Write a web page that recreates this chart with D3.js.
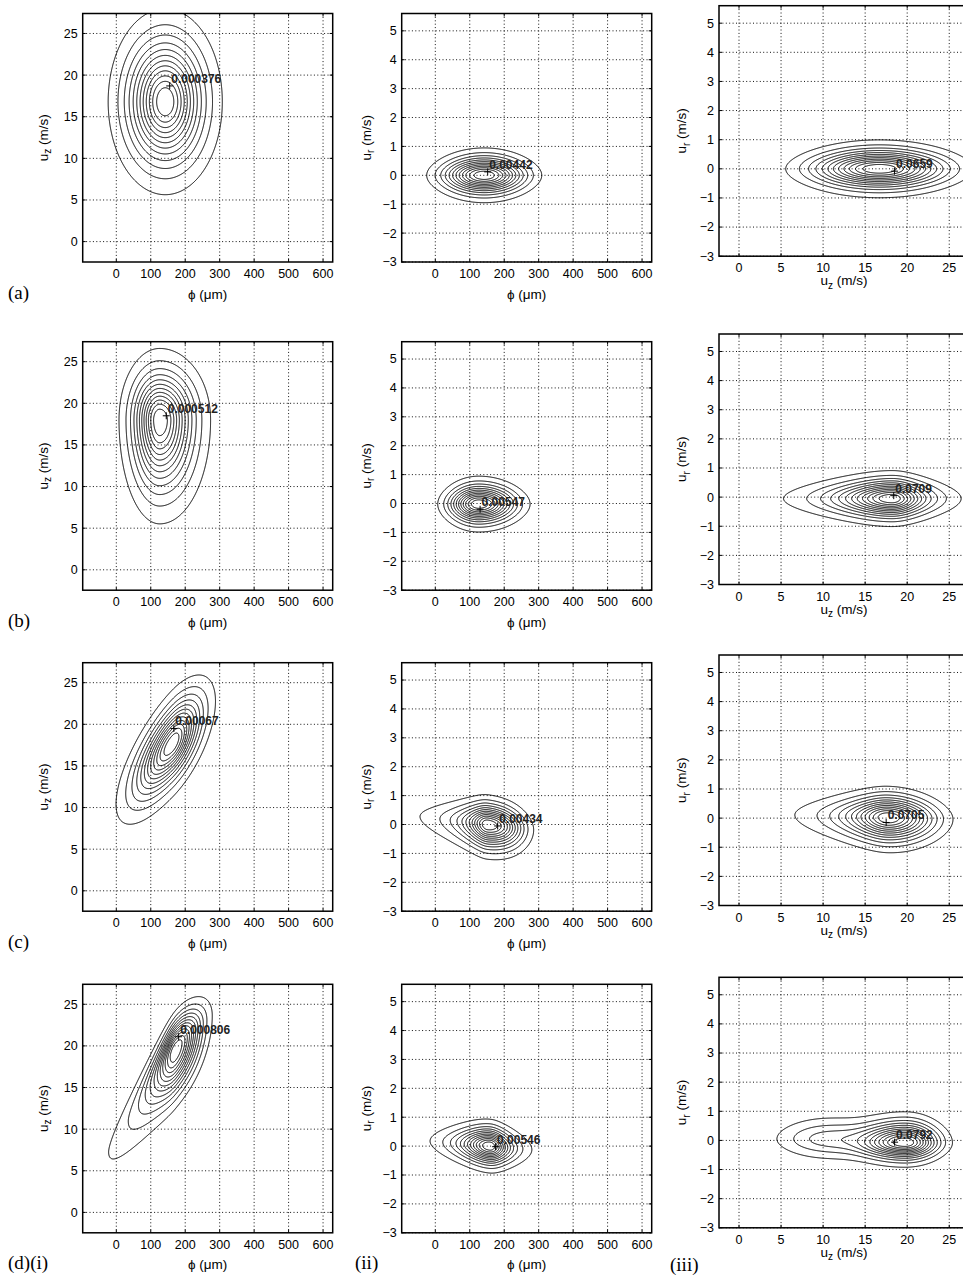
<!DOCTYPE html>
<html><head><meta charset="utf-8">
<script src="https://cdn.jsdelivr.net/npm/d3@7"></script>
<style>body{margin:0;background:#fff} svg{display:block}</style>
</head><body>
<script>
// ---------------- data ----------------
const rowLabels = ["(a)", "(b)", "(c)", "(d)(i)"];
const colLabels = ["", "(ii)", "(iii)"];
const phiTicks = [0, 100, 200, 300, 400, 500, 600];
const uzTicks = [0, 5, 10, 15, 20, 25];
const urTicks = [-3, -2, -1, 0, 1, 2, 3, 4, 5];
const phiRange = [-97.5, 628];
const uzRangeY = [-2.45, 27.4];
const uzRangeX = [-2.38, 27.35];
const urRange = [-3, 5.6];
const nLevels = 12;
// peak markers (+) and their printed maximum values, panel order a(i),a(ii),a(iii),b(i)...
const peakText = ["0.000376", "0.00442", "0.0659", "0.000512", "0.00547", "0.0709",
                  "0.00067", "0.00434", "0.0705", "0.000806", "0.00546", "0.0792"];
const peakX = [155, 152, 18.5, 145, 130, 18.4, 167, 181, 17.5, 181, 175, 18.5];
const peakY = [18.7, 0.12, -0.08, 18.5, -0.2, 0.05, 19.5, -0.05, -0.15, 21.1, -0.02, -0.06];
// fitted density shapes estimated from the contours:
// [weight, centreX, centreY, spreadLeft, spreadRight, tailExpLeft, tailExpRight,
//  spreadDown, spreadUp, tailExpY, slopeLeft, slopeRight, radialExp]
const shapes = [
  [[1, 142, 16.8, 61.7, 61.7, 2, 2, 4.16, 4.16, 2, 0, 0, 1.5]],
  [[1, 142, 0, 73.7, 73.7, 2, 2, 0.353, 0.353, 1.5, 0, 0, 2]],
  [[1, 16.7, 0, 4.92, 4.92, 2, 2, 0.37, 0.37, 1.5, 0, 0, 2]],
  [[1, 126, 18, 44, 55, 2, 2, 4.65, 3.2, 2, 0, 0, 1.5]],
  [[1, 126, -0.02, 52.5, 65.8, 2, 2, 0.36, 0.36, 1.5, 0, 0, 2]],
  [[1, 18.2, -0.05, 3.77, 2.4, 1, 1, 0.358, 0.358, 1.5, 0, 0, 2]],
  [[1, 163, 17.7, 61, 46.5, 2, 2, 2.4, 2.4, 2, 0.045, 0.04, 1.5]],
  [[1, 152, 0, 38.4, 70, 0.5, 2.7, 0.448, 0.384, 1.5, -0.0014, -0.0014, 2]],
  [[1, 17.7, 0.02, 2.83, 3.42, 0.8, 2, 0.45, 0.4, 1.5, -0.008, -0.008, 2]],
  [[1, 172, 19.5, 38, 47, 0.5, 2, 3.1, 2.1, 2, 0.065, 0.035, 2]],
  [[1, 158, 0, 50.6, 35.7, 1, 1, 0.347, 0.347, 1.5, -0.001, -0.001, 2]],
  [[1, 19.8, -0.08, 3.3, 2.47, 2, 2, 0.313, 0.395, 1.5, 0, 0, 2],
   [0.27, 10.5, 0.05, 3.8, 3.8, 2, 2, 0.37, 0.4, 1.5, 0, 0, 2]]
];

// ---------------- layout ----------------
const W = 963, H = 1279;
const colLeft = [82.7, 401.7, 719];
const plotW = 250;
const rowTop12 = [13.5, 341.7, 662.7, 984.3];
const rowTop3 = [5.7, 334, 655, 977.3];
const plotH12 = 248.5, plotH3 = 250.5;
const yLabOff = [35, 31, 33];
const sans = "'Liberation Sans', Arial, Helvetica, sans-serif";
const serif = "'Liberation Serif', 'Times New Roman', serif";

function phi(u, p) { return p === 2 ? u * u : (2 / p) * (Math.pow(1 + u * u, p / 2) - 1); }
function density(comps, X, Y) {
  let s = 0;
  for (const c of comps) {
    const [w, mx, my, sxL, sxR, pxL, pxR, syD, syU, py, kL, kR, pr] = c;
    const dx = X - mx;
    const lf = dx < 0;
    const u = dx / (lf ? sxL : sxR);
    let yc = my + kR * dx;
    if (kL !== kR) {
      const sm = 0.5 * Math.min(sxL, sxR);
      yc += (kL - kR) * (sm * Math.LN2 - sm * Math.log1p(Math.exp(-dx / sm)));
    }
    const dy = Y - yc;
    const v = dy / (dy < 0 ? syD : syU);
    const Q = phi(u, lf ? pxL : pxR) + phi(v, py);
    const A = pr === 2 ? Q : phi(Math.sqrt(Q), pr);
    s += w * Math.exp(-0.5 * A);
  }
  return s;
}

const svg = d3.select("body").append("svg").attr("width", W).attr("height", H)
  .attr("viewBox", `0 0 ${W} ${H}`);
const defs = svg.append("defs");

for (let r = 0; r < 4; r++) {
  for (let c = 0; c < 3; c++) {
    const idx = r * 3 + c;
    const left = colLeft[c];
    const top = c === 2 ? rowTop3[r] : rowTop12[r];
    const h = c === 2 ? plotH3 : plotH12;
    const bottom = top + h, right = left + plotW;
    const x = d3.scaleLinear().domain(c === 2 ? uzRangeX : phiRange).range([left, right]);
    const y = d3.scaleLinear().domain(c === 0 ? uzRangeY : urRange).range([bottom, top]);
    const xt = c === 2 ? uzTicks : phiTicks;
    const yt = c === 0 ? uzTicks : urTicks;
    const g = svg.append("g");
    const clipId = "clip" + idx;
    defs.append("clipPath").attr("id", clipId).append("rect")
      .attr("x", left).attr("y", top).attr("width", plotW).attr("height", h);

    // dotted grid
    const grid = g.append("g").attr("stroke", "#111").attr("stroke-width", 1)
      .attr("stroke-dasharray", "1,2.4");
    grid.selectAll("line.gx").data(xt).join("line").attr("class", "gx")
      .attr("x1", d => x(d)).attr("x2", d => x(d)).attr("y1", top).attr("y2", bottom);
    grid.selectAll("line.gy").data(yt).join("line").attr("class", "gy")
      .attr("y1", d => y(d)).attr("y2", d => y(d)).attr("x1", left).attr("x2", right);

    // density field and contours
    const m = 10;
    const gx0 = Math.floor(left - m), gy0 = Math.floor(top - m);
    const nx = Math.ceil(plotW + 2 * m), ny = Math.ceil(h + 2 * m);
    const vals = new Float64Array(nx * ny);
    let vmax = 0;
    for (let j = 0; j < ny; j++) {
      const Y = y.invert(gy0 + j + 0.5);
      for (let i = 0; i < nx; i++) {
        const v = density(shapes[idx], x.invert(gx0 + i + 0.5), Y);
        vals[j * nx + i] = v;
        if (v > vmax) vmax = v;
      }
    }
    const thresholds = d3.range(1, nLevels + 1).map(k => vmax * k / (nLevels + 1));
    const cont = d3.contours().size([nx, ny]).thresholds(thresholds)(vals);
    const path = d3.geoPath(d3.geoIdentity().translate([gx0, gy0]));
    g.append("g").attr("clip-path", `url(#${clipId})`)
      .selectAll("path").data(cont).join("path")
      .attr("d", path).attr("fill", "none").attr("stroke", "#000").attr("stroke-width", 1);

    // ticks (inside, all four sides)
    const tk = g.append("g").attr("stroke", "#000").attr("stroke-width", 1);
    xt.forEach(d => {
      tk.append("line").attr("x1", x(d)).attr("x2", x(d)).attr("y1", bottom).attr("y2", bottom - 3);
      tk.append("line").attr("x1", x(d)).attr("x2", x(d)).attr("y1", top).attr("y2", top + 3);
    });
    yt.forEach(d => {
      tk.append("line").attr("y1", y(d)).attr("y2", y(d)).attr("x1", left).attr("x2", left + 3);
      tk.append("line").attr("y1", y(d)).attr("y2", y(d)).attr("x1", right).attr("x2", right - 3);
    });
    // frame
    g.append("rect").attr("x", left).attr("y", top).attr("width", plotW).attr("height", h)
      .attr("fill", "none").attr("stroke", "#000").attr("stroke-width", 1.5);

    // tick labels
    const fmt = d => (d < 0 ? "\u2212" + Math.abs(d) : String(d));
    g.append("g").attr("font-family", sans).attr("font-size", 12.5).attr("fill", "#000")
      .attr("text-anchor", "middle")
      .selectAll("text").data(xt).join("text")
      .attr("x", d => x(d)).attr("y", bottom + 16).text(fmt);
    g.append("g").attr("font-family", sans).attr("font-size", 12.5).attr("fill", "#000")
      .attr("text-anchor", "end")
      .selectAll("text").data(yt).join("text")
      .attr("x", left - 5).attr("y", d => y(d) + 4.4).text(fmt);

    // axis labels
    if (c === 2) {
      const xl = g.append("text").attr("x", (left + right) / 2).attr("y", bottom + 29)
        .attr("font-family", sans).attr("font-size", 13.5).attr("text-anchor", "middle");
      xl.append("tspan").text("u");
      xl.append("tspan").attr("dy", 3.5).attr("font-size", 10).text("z");
      xl.append("tspan").attr("dy", -3.5).text(" (m/s)");
    } else {
      g.append("text").attr("x", (left + right) / 2).attr("y", bottom + 36.5)
        .attr("font-family", sans).attr("font-size", 13.5).attr("text-anchor", "middle")
        .text("\u03D5 (\u03BCm)");
    }
    const yl = g.append("text")
      .attr("transform", `translate(${left - yLabOff[c]},${(top + bottom) / 2}) rotate(-90)`)
      .attr("font-family", sans).attr("font-size", 13.5).attr("text-anchor", "middle");
    yl.append("tspan").text("u");
    yl.append("tspan").attr("dy", 3.5).attr("font-size", 10).text(c === 0 ? "z" : "r");
    yl.append("tspan").attr("dy", -3.5).text(" (m/s)");

    // peak marker and value
    const px = x(peakX[idx]), py = y(peakY[idx]);
    g.append("path").attr("d", `M${px - 3.5},${py}H${px + 3.5}M${px},${py - 3.5}V${py + 3.5}`)
      .attr("stroke", "#000").attr("stroke-width", 1);
    g.append("text").attr("x", px + 1.5).attr("y", py - 3)
      .attr("font-family", sans).attr("font-size", 12).attr("font-weight", "bold")
      .attr("fill", "#222").text(peakText[idx]);

    // panel labels
    if (c === 0) {
      svg.append("text").attr("x", 8).attr("y", bottom + 36.5)
        .attr("font-family", serif).attr("font-size", 19).text(rowLabels[r]);
    }
    if (r === 3 && c > 0) {
      svg.append("text").attr("x", c === 1 ? 355 : 670).attr("y", bottom + (c === 1 ? 36.5 : 43))
        .attr("font-family", serif).attr("font-size", 19).text(colLabels[c]);
    }
  }
}
</script>
</body></html>
